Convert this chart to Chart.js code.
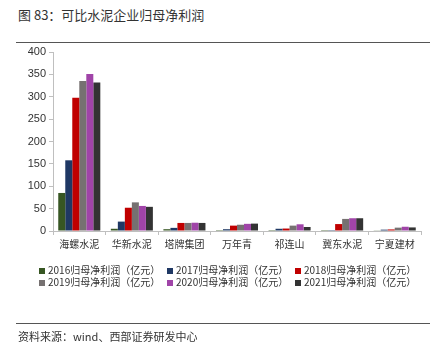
<!DOCTYPE html>
<html>
<head>
<meta charset="utf-8">
<script src="https://cdn.jsdelivr.net/npm/chart.js@4.4.1/dist/chart.umd.min.js"></script>
<style>
  html, body { margin:0; padding:0; background:#fff; }
  #wrap { position:relative; width:440px; height:355px; overflow:hidden; font-family:"Noto Sans CJK SC","Liberation Sans",sans-serif; }
  #title { position:absolute; left:18px; top:5px; font-size:13px; color:#333; white-space:nowrap; }
  #line1 { position:absolute; left:16px; top:42px; width:414px; height:0; border-top:1px solid #555; }
  #line2 { position:absolute; left:16px; top:323px; width:414px; height:0; border-top:1px solid #555; }
  #source { position:absolute; left:18px; top:328px; font-size:11px; color:#333; white-space:nowrap; }
  #legend { position:absolute; left:39px; top:263px; width:400px; font-size:10px; color:#333; }
  .li { position:absolute; white-space:nowrap; line-height:13px; }
  .sw { display:inline-block; width:6px; height:6px; margin-right:3px; vertical-align:0px; }
  canvas { position:absolute; left:0; top:0; }
</style>
</head>
<body>
<div id="wrap">
  <div id="title">图 83：可比水泥企业归母净利润</div>
  <div id="line1"></div>
  <canvas id="c" width="440" height="355"></canvas>
  <div id="legend"></div>
  <div id="line2"></div>
  <div id="source">资料来源：wind、西部证券研发中心</div>
</div>
<script>
const categories = ["海螺水泥","华新水泥","塔牌集团","万年青","祁连山","冀东水泥","宁夏建材"];
const seriesNames = ["2016归母净利润（亿元）","2017归母净利润（亿元）","2018归母净利润（亿元）","2019归母净利润（亿元）","2020归母净利润（亿元）","2021归母净利润（亿元）"];
const v2016 = [85, 5, 4, 2, 2, 2, 1.5];
const v2017 = [158, 21, 7, 4, 5, 2, 3];
const v2018 = [298, 52, 18, 12, 5.5, 15.5, 3.5];
const v2019 = [335, 64, 18, 14, 12, 27, 7.5];
const v2020 = [351, 56, 18.5, 16, 15, 28.5, 9.5];
const v2021 = [332, 54, 18, 16.5, 9, 28.5, 8];
const yTicks = [0,50,100,150,200,250,300,350,400];
const colors = ["#375623","#1F3864","#C00000","#767171","#A044A8","#333333"];

const allValues = [v2016,v2017,v2018,v2019,v2020,v2021];
const datasets = allValues.map((vals,i)=>({
  label: seriesNames[i],
  data: vals,
  backgroundColor: colors[i],
  borderWidth: 0,
  categoryPercentage: 0.8,
  barPercentage: 1.0
}));

new Chart(document.getElementById('c'), {
  type: 'bar',
  data: { labels: categories, datasets },
  options: {
    responsive: false,
    animation: false,
    devicePixelRatio: 1,
    layout: { padding: { top: 52, right: 19, left: 0, bottom: 0 } },
    plugins: { legend: { display: false }, tooltip: { enabled: false } },
    scales: {
      x: {
        grid: { display: true, offset: true, drawOnChartArea: false, drawTicks: true, tickLength: 4, color: '#BFBFBF' },
        border: { color: '#BFBFBF', width: 1 },
        ticks: { color: '#333', font: { family: '"Noto Sans CJK SC"', size: 10 }, padding: 3, maxRotation: 0 },
        afterFit: s => { s.height = 124; }
      },
      y: {
        min: 0, max: 400,
        afterBuildTicks: s => { s.ticks = yTicks.map(v => ({ value: v })); },
        grid: { display: true, drawOnChartArea: false, drawTicks: true, tickLength: 4, color: '#BFBFBF' },
        border: { color: '#BFBFBF', width: 1 },
        ticks: { color: '#333', font: { family: '"Liberation Sans", Arial', size: 11 }, padding: 3 },
        afterFit: s => { s.width = 53; }
      }
    }
  }
});

const leg = document.getElementById('legend');
const colX = [0, 128, 256];
seriesNames.forEach((n,i)=>{
  const d = document.createElement('div');
  d.className = 'li';
  d.style.left = colX[i%3] + 'px';
  d.style.top = (Math.floor(i/3)*12) + 'px';
  d.innerHTML = '<span class="sw" style="background:'+colors[i]+'"></span>' + n;
  leg.appendChild(d);
});
</script>
</body>
</html>
